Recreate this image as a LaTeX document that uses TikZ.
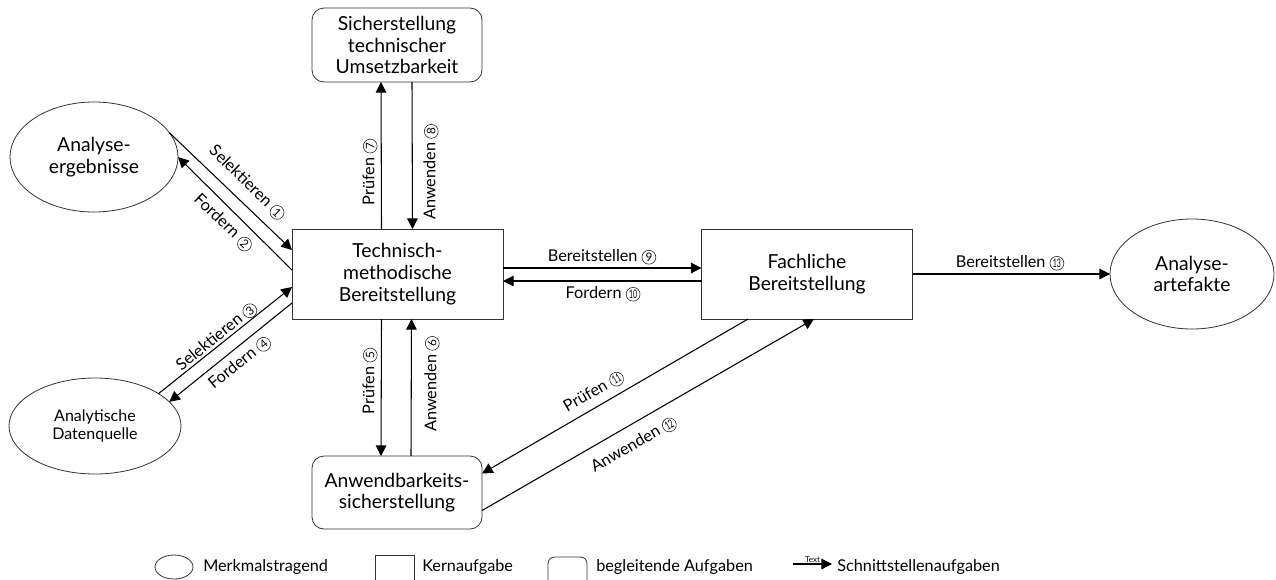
\documentclass[tikz,border=0pt]{standalone}
\usepackage{graphicx}
\usepackage{fontspec}
\setmainfont{Lato}
\usetikzlibrary{arrows.meta,calc,shapes.geometric}

% circled step numbers
\newcommand{\cnum}[1]{\tikz[baseline=(cn.base)]\node[draw=black!85, circle, line width=0.45pt,
  inner sep=0pt, minimum size=10.4pt, font=\fontsize{8.8}{8.8}\selectfont] (cn) {#1};}
\newcommand{\cnumw}[1]{\cnum{\scalebox{0.6}[1]{#1}}}

\tikzset{
  boxline/.style={draw=black!80, line width=0.6pt, outer sep=0pt},
  core/.style={boxline, rectangle, align=center, inner sep=0pt,
    minimum width=158.25pt, minimum height=67.5pt,
    font=\fontsize{14.5}{16.3}\selectfont},
  aux/.style={boxline, rectangle, rounded corners=9pt, align=center, inner sep=0pt,
    minimum width=127.5pt, minimum height=54.75pt,
    font=\fontsize{14.5}{16.3}\selectfont},
  feat/.style={boxline, ellipse, align=center, inner sep=0pt,
    font=\fontsize{14.5}{16.3}\selectfont},
  arr/.style={-{Triangle[length=8pt,width=8pt]}, line width=0.8pt},
  lbl/.style={font=\fontsize{12.2}{14}\selectfont, inner sep=1pt},
  legtext/.style={font=\fontsize{12.2}{14}\selectfont, anchor=west, inner sep=0pt},
}

\begin{document}
\begin{tikzpicture}[x=0.75pt,y=-0.75pt]
\clip (0,0) rectangle (1276,579);

% tasks
\node[core] (tmb) at (397.5,274) {Technisch-\\methodische\\Bereitstellung};
\node[core] (fach) at (807,274) {Fachliche\\Bereitstellung};
\node[aux, minimum height=55.5pt] (sich) at (397,45) {Sicherstellung\\technischer\\Umsetzbarkeit};
\node[aux] (anw) at (397,492.5) {Anwendbarkeits-\\sicherstellung};

% characteristic carriers
\node[feat, minimum width=126pt, minimum height=82.5pt] (ae) at (94,157) {Analyse-\\ergebnisse};
\node[feat, minimum width=129pt, minimum height=72pt, font=\fontsize{12}{13.5}\selectfont] (ad) at (95,426) {Analytische\\Datenquelle};
\node[feat, minimum width=123pt, minimum height=82.5pt] (aa) at (1192,274) {Analyse-\\artefakte};

% interfaces
\draw[arr] (ae.18) -- ($(tmb.west)+(0,-24)$);
\draw[arr] ($(tmb.west)+(0,-4)$) -- (ae.0);
\draw[arr] (ad.27) -- ($(tmb.west)+(0,13)$);
\draw[arr] ($(tmb.west)+(0,29)$) -- (ad.18);
\draw[arr] ($(tmb.north)+(-16,0)$) -- ($(sich.south)+(-16,0)$);
\draw[arr] ($(sich.south)+(15,0)$) -- ($(tmb.north)+(15,0)$);
\draw[arr] ($(tmb.south)+(-16,0)$) -- ($(anw.north)+(-16,0)$);
\draw[arr] ($(anw.north)+(14,0)$) -- ($(tmb.south)+(14,0)$);
\draw[arr] ($(tmb.east)+(0,-6)$) -- ($(fach.west)+(0,-6)$);
\draw[arr] ($(fach.west)+(0,7)$) -- ($(tmb.east)+(0,7)$);
\draw[arr] (fach.east) -- (aa.west);
\draw[arr] ($(fach.south)+(-59,0)$) -- ($(anw.east)+(0,-19)$);
\draw[arr] ($(anw.east)+(0,18)$) -- ($(fach.south)+(7,0)$);

% interface labels
\node[lbl, rotate=-44] (l1) at (247,183) {Selektieren \cnum{1}};
\node[lbl, rotate=-44] (l2) at (223,223) {Fordern \cnum{2}};
\node[lbl, rotate=39] (l3) at (217,337) {Selektieren \cnum{3}};
\node[lbl, rotate=39] (l4) at (240,363) {Fordern \cnum{4}};
\node[lbl, rotate=90] (l5) at (370,381) {Prüfen \cnum{5}};
\node[lbl, rotate=90] (l6) at (432,384) {Anwenden \cnum{6}};
\node[lbl, rotate=90] (l7) at (370,172) {Prüfen \cnum{7}};
\node[lbl, rotate=90] (l8) at (431,172) {Anwenden \cnum{8}};
\node[lbl] (l9) at (602,257) {Bereitstellen \cnum{9}};
\node[lbl] (l10) at (603,294) {Fordern \cnumw{10}};
\node[lbl, rotate=30] (l11) at (594,392) {Prüfen \cnumw{11}};
\node[lbl, rotate=30] (l12) at (634,445) {Anwenden \cnumw{12}};
\node[lbl] (l13) at (1010,263) {Bereitstellen \cnumw{13}};

% legend
\node[boxline, ellipse, minimum width=28.5pt, minimum height=18pt, inner sep=0pt] (lg1) at (174,567) {};
\node[legtext] (lt1) at (203,567) {Merkmalstragend};
\node[boxline, minimum width=29.25pt, minimum height=26.25pt, inner sep=0pt] (lg2) at (394.5,572.5) {};
\node[legtext] (lt2) at (422,567) {Kernaufgabe};
\node[boxline, rounded corners=5pt, minimum width=29.25pt, minimum height=24.75pt, inner sep=0pt] (lg3) at (567.5,573.5) {};
\node[legtext] (lt3) at (596,567) {begleitende Aufgaben};
\coordinate (la0) at (793,564);
\coordinate (la1) at (832,564);
\draw[arr] (la0) -- (la1) node[midway, above, inner sep=1pt, font=\fontsize{6}{7}\selectfont] {Text};
\node[legtext] (lt4) at (837,567) {Schnittstellenaufgaben};
\end{tikzpicture}
\end{document}
